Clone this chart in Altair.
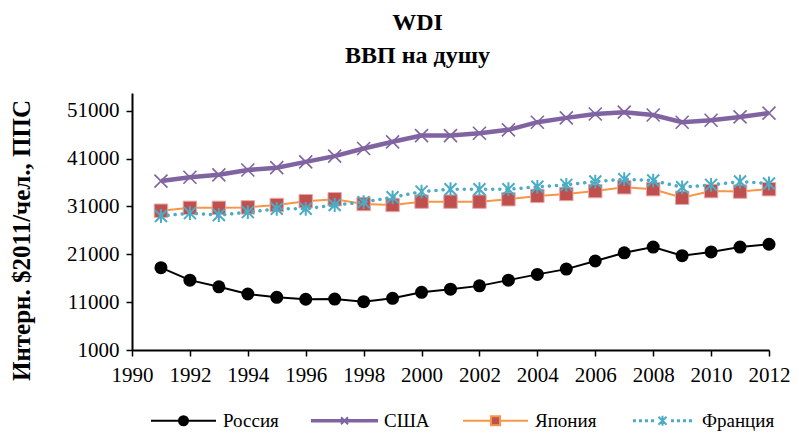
import altair as alt
import pandas as pd

years = list(range(1991, 2013))
countries = ["Россия", "США", "Япония", "Франция"]
russia = [18200, 15600, 14200, 12700, 12000, 11600, 11650, 11100, 11800, 13050, 13700,
          14400, 15600, 16800, 17900, 19600, 21300, 22500, 20700, 21500, 22500, 23100]
usa = [36300, 37100, 37600, 38600, 39100, 40300, 41500, 43100, 44500, 45800, 45800,
       46300, 47000, 48600, 49500, 50300, 50700, 50100, 48600, 49000, 49700, 50500]
japan = [30100, 30700, 30700, 30800, 31300, 32100, 32500, 31500, 31300, 32000, 32000,
         32000, 32500, 33200, 33600, 34200, 35000, 34600, 32800, 34200, 34100, 34600]
france = [29000, 29600, 29200, 29800, 30500, 30500, 31300, 31900, 32900, 34100, 34600,
          34600, 34600, 35100, 35500, 36200, 36700, 36400, 35000, 35500, 36200, 35800]
x_ticks = list(range(1990, 2013, 2))
y_ticks = [1000, 11000, 21000, 31000, 41000, 51000]

series = [russia, usa, japan, france]
df = pd.DataFrame({
    "year": years * 4,
    "value": [v for s in series for v in s],
    "country": [c for c in countries for _ in years],
})

FONT = "Liberation Serif"

x_enc = alt.X("year:Q",
              scale=alt.Scale(domain=[1990, 2012], nice=False, zero=False),
              axis=alt.Axis(values=x_ticks, format="d", title=None,
                            labelPadding=8, labelOverlap=False, labelFlush=False))
y_enc = alt.Y("value:Q",
              scale=alt.Scale(domain=[1000, 54700], nice=False, zero=False),
              axis=alt.Axis(values=y_ticks, format="d",
                            title="Интерн. $2011/чел., ППС",
                            titleFont=FONT, titleFontSize=25, titleFontWeight="bold",
                            titleColor="black", titleAngle=270, titleX=-111, titleY=147,
                            titleBaseline="middle", titleAlign="center",
                            labelPadding=7, labelOverlap=False, labelFlush=False))

base = alt.Chart(df).encode(x=x_enc, y=y_enc)

def sel(c):
    return base.transform_filter(alt.datum.country == c)

X_PATH = "M-1,-1L1,1M-1,1L1,-1"
AST_PATH = "M-1,-1L1,1M-1,1L1,-1M0,-1.15L0,1.15"

layers = [
    sel("Россия").mark_line(color="black", strokeWidth=2),
    sel("Россия").mark_point(shape="circle", filled=True, color="black", size=169, opacity=1),
    sel("США").mark_line(color="#8064A2", strokeWidth=4.5),
    sel("США").mark_point(shape=X_PATH, color="#8064A2", size=169, strokeWidth=1.6, opacity=1),
    sel("Япония").mark_line(color="#F79646", strokeWidth=2),
    sel("Япония").mark_point(shape="square", filled=True, fill="#C0504D", stroke="#E6A9A8",
                             strokeWidth=1, size=180, opacity=1),
    sel("Франция").mark_line(color="#4BACC6", strokeWidth=3.5, strokeDash=[0.1, 7],
                             strokeCap="round"),
    sel("Франция").mark_point(shape=AST_PATH, color="#4BACC6", size=144, strokeWidth=2,
                              opacity=1),
]

# legend symbols: line + marker, drawn as custom paths
leg_russia = "M-6.5,0H6.5M0.9,0A0.9,0.9,0,1,1,-0.9,0A0.9,0.9,0,1,1,0.9,0Z"
leg_usa = "M-6.5,-0.15H6.5V0.15H-6.5ZM-0.7,-0.7L0.7,0.7M-0.7,0.7L0.7,-0.7"
leg_japan = "M-6.5,0H-0.9M0.9,0H6.5M-0.9,-0.9H0.9V0.9H-0.9Z"
dots = "".join(f"M{p - 0.1:.2f},-0.1h0.2v0.2h-0.2Z" for p in [-5.6, -4.4, -3.2, -2.0, 2.0, 3.2, 4.4, 5.6])
leg_france = dots + "M-0.8,-0.8L0.8,0.8M-0.8,0.8L0.8,-0.8M0,-1L0,1"

legend = alt.Legend(title=None, orient="none", direction="horizontal", columns=4,
                    legendX=15, legendY=318, symbolSize=100, symbolOffset=27,
                    labelOffset=30, columnPadding=29, symbolStrokeWidth=2,
                    symbolOpacity=1, labelFont=FONT, labelFontSize=19,
                    labelColor="black")

legend_layer = base.mark_point(opacity=0, size=100).encode(
    shape=alt.Shape("country:N", sort=countries,
                    scale=alt.Scale(domain=countries,
                                    range=[leg_russia, leg_usa, leg_japan, leg_france]),
                    legend=legend),
    fill=alt.Fill("country:N", sort=countries,
                  scale=alt.Scale(domain=countries,
                                  range=["black", "#8064A2", "#C0504D", "#4BACC6"]),
                  legend=legend),
    stroke=alt.Stroke("country:N", sort=countries,
                      scale=alt.Scale(domain=countries,
                                      range=["black", "#8064A2", "#F79646", "#4BACC6"]),
                      legend=legend),
)

chart = alt.layer(*layers, legend_layer).properties(
    width=637, height=257,
    autosize=alt.AutoSizeParams(type="none"),
    padding={"left": 124, "top": 85, "right": 22, "bottom": 81},
    title=alt.TitleParams(text=["WDI", "ВВП на душу"], font=FONT, fontSize=24,
                          fontWeight="bold", color="black", anchor="middle",
                          dx=-33, offset=25, lineHeight=33),
    background="white",
).configure_view(stroke=None).configure_axis(
    grid=False, domainColor="black", domainWidth=2, tickColor="black", tickWidth=1.5,
    tickSize=6, labelFont=FONT, labelFontSize=21, labelColor="black",
)

chart.save("out.html", embed_options={"renderer": "svg", "actions": False})
